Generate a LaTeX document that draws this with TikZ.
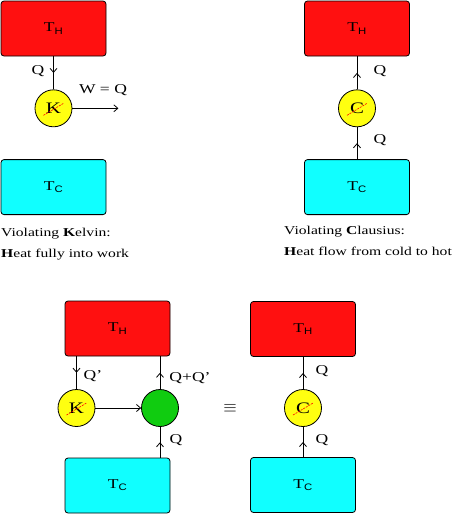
\documentclass[tikz,border=0pt]{standalone}
\usepackage{fontspec}
\setmainfont{Liberation Serif}[FakeStretch=1.3]
\setsansfont{Liberation Sans}[FakeStretch=1.2]
\usetikzlibrary{positioning, arrows.meta, decorations.markings}

\definecolor{hotred}{RGB}{255,16,16}
\definecolor{coldcyan}{RGB}{16,255,255}
\definecolor{engyellow}{RGB}{255,255,16}
\definecolor{enggreen}{RGB}{16,204,16}

\newcommand{\Tsub}[1]{T\textsubscript{\sffamily #1}}

\begin{document}
\begin{tikzpicture}[
    x = 1pt, y = -1pt,
    node distance = 33pt,
    every node/.style = {font=\fontsize{13.5}{15}\selectfont},
    reservoir/.style  = {rectangle, rounded corners=3pt, draw, line width=0.8pt,
                         minimum width=105pt, minimum height=55pt},
    hot/.style        = {reservoir, fill=hotred},
    cold/.style       = {reservoir, fill=coldcyan},
    engine/.style     = {circle, draw, line width=0.8pt, minimum size=37pt,
                         inner sep=0pt, fill=engyellow, font=\fontsize{16}{18}\selectfont},
    merged/.style     = {engine, fill=enggreen},
    caption/.style    = {align=left, anchor=north west, inner sep=0pt,
                         font=\fontsize{12}{20}\selectfont},
    flow/.style       = {line width=0.8pt},
    tip/.tip          = {Straight Barb[length=4pt, width=7pt]},
    midarr/.style     = {flow, postaction={decorate},
                         decoration={markings, mark=at position 0.5 with {\arrow{tip}}}},
    arr/.style        = {flow, -tip},
    cross/.style      = {red, line width=0.6pt, dash pattern=on 2pt off 1pt}
]
\useasboundingbox (0,0) rectangle (452,515);

% Kelvin violation
\node[hot] (thK) at (53.5,28.5) {\Tsub{H}};
\node[engine, below=of thK] (kA) {K};
\node[cold, below=32pt of kA] (tcK) {\Tsub{C}};
\coordinate[right=46pt of kA] (work);
\node (qK) at (38,71) {Q};
\node (wK) at (103,90) {W = Q};
\node[caption] (kelvin) at (1,228) {Violating \textbf{K}elvin:\\[0.5pt]\textbf{H}eat fully into work};

\draw[midarr] (thK) -- (kA);
\draw[arr] (kA) -- (work);
\draw[cross] ([shift={(-10,7)}]kA.center) -- ([shift={(10,-5)}]kA.center);

% Clausius violation
\node[hot] (thC) at (357,28.5) {\Tsub{H}};
\node[engine, below=of thC] (cA) {C};
\node[cold, below=32pt of cA] (tcC) {\Tsub{C}};
\node (qCa) at (380,71) {Q};
\node (qCb) at (380,140) {Q};
\node[caption] (clausius) at (284,226) {Violating \textbf{C}lausius:\\[0.5pt]\textbf{H}eat flow from cold to hot};

\draw[midarr] (tcC) -- (cA);
\draw[midarr] (cA) -- (thC);
\draw[cross] ([shift={(-10,7)}]cA.center) -- ([shift={(10,-5)}]cA.center);

% Kelvin engine plus refrigerator
\node[hot] (thS) at (117.5,328.5) {\Tsub{H}};
\node[engine] (kB) at (76.5,408) {K};
\node[merged] (gB) at (160,408) {};
\node[cold] (tcS) at (117.5,485.5) {\Tsub{C}};
\node (qP) at (93,376) {Q'};
\node (qqP) at (190,378) {Q+Q'};
\node (qS) at (176,440) {Q};
\node[font=\fontsize{17}{18}\selectfont] (equiv) at (230,408) {$\equiv$};

\draw[midarr] (kB |- thS.south) -- (kB);
\draw[arr] (kB) -- (gB);
\draw[midarr] (gB) -- (gB |- thS.south);
\draw[midarr] (gB |- tcS.north) -- (gB);
\draw[cross] ([shift={(-10,7)}]kB.center) -- ([shift={(10,-5)}]kB.center);

% net effect
\node[hot] (thN) at (303,329) {\Tsub{H}};
\node[engine] (cB) at (303,408) {C};
\node[cold] (tcN) at (303,485) {\Tsub{C}};
\node (qNa) at (322,371) {Q};
\node (qNb) at (322,440) {Q};

\draw[midarr] (tcN) -- (cB);
\draw[midarr] (cB) -- (thN);
\draw[cross] ([shift={(-10,7)}]cB.center) -- ([shift={(10,-5)}]cB.center);
\end{tikzpicture}
\end{document}
